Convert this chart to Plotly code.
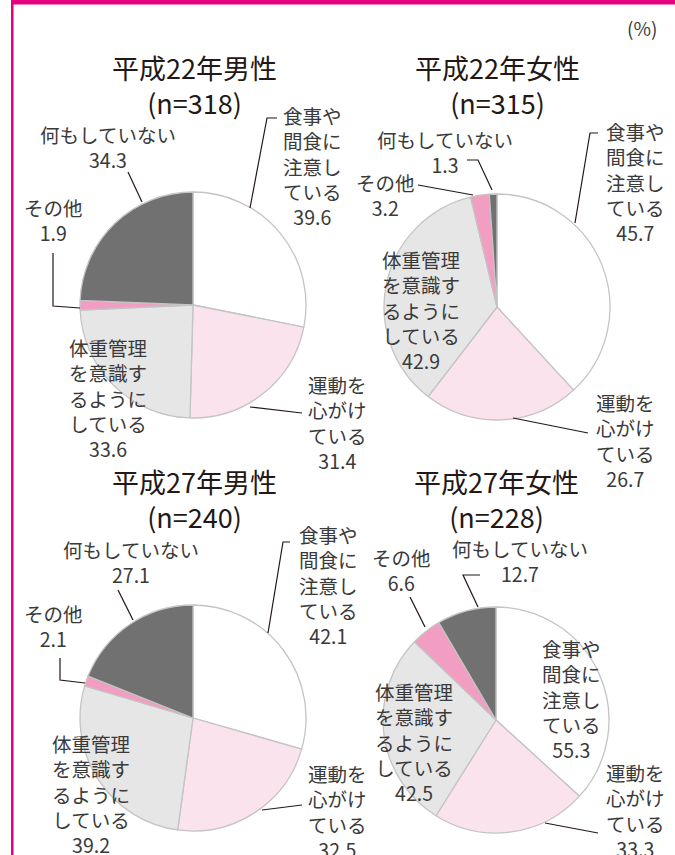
import plotly.graph_objects as go

W, H = 675, 855

categories = ["食事や間食に注意している", "運動を心がけている", "体重管理を意識するようにしている", "その他", "何もしていない"]
titles = ["平成22年男性", "平成22年女性", "平成27年男性", "平成27年女性"]
sample_sizes = ["(n=318)", "(n=315)", "(n=240)", "(n=228)"]
h22_male = [39.6, 31.4, 33.6, 1.9, 34.3]
h22_female = [45.7, 26.7, 42.9, 3.2, 1.3]
h27_male = [42.1, 32.5, 39.2, 2.1, 27.1]
h27_female = [55.3, 33.3, 42.5, 6.6, 12.7]
series = [h22_male, h22_female, h27_male, h27_female]

label_lines = [["食事や", "間食に", "注意し", "ている"],
               ["運動を", "心がけ", "ている"],
               ["体重管理", "を意識す", "るように", "している"],
               ["その他"],
               ["何もしていない"]]

slice_colors = ["#ffffff", "#fae3ec", "#e6e6e6", "#f19ec2", "#727171"]
TEXT = "#3a3a3a"
FONT = "Noto Sans CJK JP"

# layout (pixel) : pie centers, radius
centers = [(193, 305), (497, 307), (193, 718), (496, 720)]
R = 113
title_pos = [(194, 70), (497, 70), (194, 484), (496, 484)]

# label block centers (x, y of block center) per panel per category
label_pos = [
    [(312, 166), (337, 422), (108, 398), (53, 220), (108, 147)],
    [(635, 182), (625, 440), (421, 310), (385, 195), (445, 152)],
    [(328, 585), (337, 811), (91, 794), (53, 626), (131, 562)],
    [(571, 699), (635, 810), (414, 742), (402, 570), (520, 561)],
]
leaders = [
    [[(277, 118), (267, 118), (250, 208)], [(250, 407), (302, 413)], None,
     [(53, 253), (53, 306), (80, 308)], [(128, 172), (142, 202)]],
    [[(598, 133), (590, 133), (575, 223)], [(513, 418), (588, 433)], None,
     [(418, 185), (473, 195)], [(467, 160), (478, 160), (492, 190)]],
    [[(290, 542), (283, 542), (268, 633)], [(262, 810), (302, 805)], None,
     [(60, 658), (60, 680), (85, 683)], [(118, 590), (133, 620)]],
    [None, [(545, 823), (598, 833)], None,
     [(410, 597), (425, 627)], [(480, 575), (463, 575), (478, 607)]],
]


def px(x):
    return x / W


def py(y):
    return 1 - y / H


fig = go.Figure()
annotations = []
shapes = []

for i, vals in enumerate(series):
    cx, cy = centers[i]
    fig.add_trace(go.Pie(
        values=vals, labels=categories, sort=False, direction="clockwise", rotation=0,
        textinfo="none", hoverinfo="label+value",
        marker=dict(colors=slice_colors, line=dict(color="#c4c4c4", width=1.3)),
        domain=dict(x=[px(cx - R), px(cx + R)], y=[py(cy + R), py(cy - R)]),
        showlegend=False,
    ))
    tx, ty = title_pos[i]
    annotations.append(dict(x=px(tx), y=py(ty + 15), text=titles[i] + "<br>" + sample_sizes[i],
                            showarrow=False, xanchor="center", yanchor="middle",
                            font=dict(family=FONT, size=27, color="#231815")))
    for k, v in enumerate(vals):
        lines = label_lines[k] + [f"{v:.1f}"]
        bx, by = label_pos[i][k]
        annotations.append(dict(x=px(bx), y=py(by), text="<br>".join(lines), showarrow=False,
                                xanchor="center", yanchor="middle", align="center",
                                font=dict(family=FONT, size=19.5, color=TEXT)))
        ld = leaders[i][k]
        if ld:
            path = "M " + " L ".join(f"{px(a):.5f},{py(b):.5f}" for a, b in ld)
            shapes.append(dict(type="path", xref="paper", yref="paper", path=path,
                               line=dict(color="#231815", width=1.2)))

annotations.append(dict(x=px(642), y=py(28), text="(%)", showarrow=False,
                        xanchor="center", yanchor="middle",
                        font=dict(family=FONT, size=19, color=TEXT)))

# magenta frame
shapes.append(dict(type="rect", xref="paper", yref="paper", x0=px(11), x1=1, y0=py(4.5), y1=1,
                   fillcolor="#e4007f", line=dict(width=0)))
shapes.append(dict(type="rect", xref="paper", yref="paper", x0=px(11), x1=px(13.5), y0=0, y1=1,
                   fillcolor="#e4007f", line=dict(width=0)))

fig.update_layout(width=W, height=H, margin=dict(l=0, r=0, t=0, b=0),
                  paper_bgcolor="white", plot_bgcolor="white",
                  annotations=annotations, shapes=shapes)

fig.write_html("out.html", config={"displayModeBar": False},
               post_script="document.body.style.margin='0';document.body.style.overflow='hidden';")
